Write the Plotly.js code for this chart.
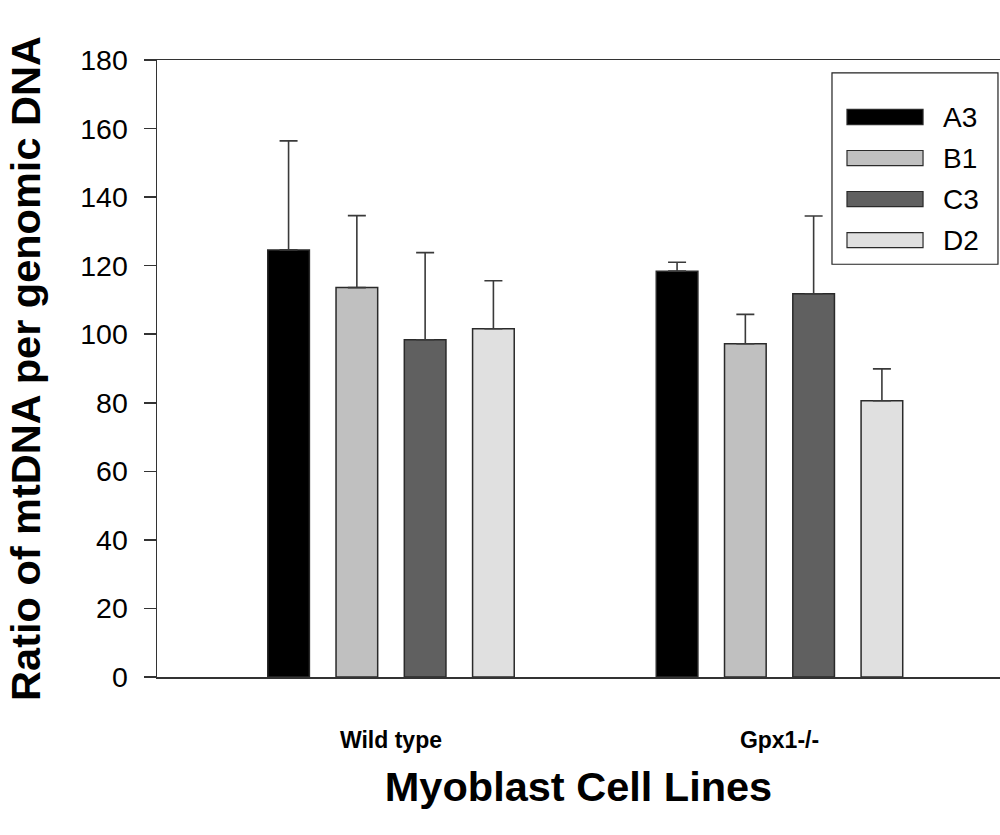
<!DOCTYPE html>
<html>
<head>
<meta charset="utf-8">
<script src="https://cdn.plot.ly/plotly-3.0.1.min.js"></script>
<style>
  html, body { margin: 0; padding: 0; background: #ffffff; }
  #chart { width: 1000px; height: 835px; }
</style>
</head>
<body>
<div id="chart"></div>
<script>
// ---- Data ----
const categories = ["Wild type", "Gpx1-/-"];
const seriesNames = ["A3", "B1", "C3", "D2"];
const seriesColors = ["#000000", "#c0c0c0", "#606060", "#e0e0e0"];

const valuesA3 = [124.6, 118.4];
const valuesB1 = [113.6, 97.2];
const valuesC3 = [98.4, 111.8];
const valuesD2 = [101.6, 80.6];

const errorsA3 = [31.8, 2.6];
const errorsB1 = [21.0, 8.6];
const errorsC3 = [25.4, 22.7];
const errorsD2 = [14.0, 9.3];

const yTickValues = [0, 20, 40, 60, 80, 100, 120, 140, 160, 180];

const allValues = [valuesA3, valuesB1, valuesC3, valuesD2];
const allErrors = [errorsA3, errorsB1, errorsC3, errorsD2];

const FONT = "Liberation Sans, Arial, Helvetica, sans-serif";

const traces = seriesNames.map((name, i) => ({
  type: "bar",
  name: name,
  x: categories,
  y: allValues[i],
  marker: { color: seriesColors[i], line: { color: "#2a2a2a", width: 1.5 } },
  error_y: {
    type: "data",
    symmetric: false,
    array: allErrors[i],
    arrayminus: allErrors[i].map(() => 0),
    color: "#3a3a3a",
    thickness: 1.6,
    width: 9
  },
  showlegend: false,
  hoverinfo: "x+y+name"
}));

// Legend drawn as a boxed key in paper coordinates
const shapes = [];
const annotations = [];
const legX0 = 0.8007, legX1 = 0.9976, legY0 = 0.669, legY1 = 0.979;
shapes.push({ type: "rect", xref: "paper", yref: "paper", x0: legX0, x1: legX1, y0: legY0, y1: legY1,
  line: { color: "#222", width: 1.2 }, fillcolor: "#ffffff", layer: "above" });
const swH = 0.0245, rowStep = 0.0665, firstRow = 0.9076;
seriesNames.forEach((name, i) => {
  const yc = firstRow - i * rowStep;
  shapes.push({ type: "rect", xref: "paper", yref: "paper", x0: 0.8185, x1: 0.9087,
    y0: yc - swH / 2, y1: yc + swH / 2, fillcolor: seriesColors[i],
    line: { color: "#2a2a2a", width: 1.2 }, layer: "above" });
  annotations.push({ xref: "paper", yref: "paper", x: 0.9300, y: yc, xanchor: "left", yanchor: "middle",
    text: name, showarrow: false, font: { family: FONT, size: 28, color: "#000" } });
});

const layout = {
  width: 1000,
  height: 835,
  margin: { l: 157, r: 0, t: 60, b: 158 },
  paper_bgcolor: "#ffffff",
  plot_bgcolor: "#ffffff",
  barmode: "group",
  bargap: 0.297,
  bargroupgap: 0.39,
  showlegend: false,
  font: { family: FONT, color: "#000" },
  xaxis: {
    type: "category",
    range: [-0.6023, 1.5676],
    showline: true,
    linecolor: "#333",
    linewidth: 1.5,
    mirror: true,
    ticks: "",
    showgrid: false,
    zeroline: false,
    tickfont: { family: FONT, size: 23, color: "#000", weight: "bold" },
    ticklabelstandoff: 42,
    title: { text: "Myoblast Cell Lines", font: { family: FONT, size: 41.5, color: "#000", weight: "bold" }, standoff: 20 },
    automargin: false
  },
  yaxis: {
    range: [0, 180],
    tickvals: yTickValues,
    ticktext: yTickValues.map(String),
    showline: true,
    linecolor: "#333",
    linewidth: 1.5,
    ticks: "outside",
    ticklen: 12,
    tickwidth: 1.5,
    tickcolor: "#333",
    showgrid: false,
    zeroline: false,
    tickfont: { family: FONT, size: 28.5, color: "#000" },
    ticklabelstandoff: 10,
    title: { text: "Ratio of mtDNA per genomic DNA", font: { family: FONT, size: 41.5, color: "#000", weight: "bold" }, standoff: 26 },
    automargin: false
  },
  shapes: shapes,
  annotations: annotations
};

Plotly.newPlot("chart", traces, layout, { displayModeBar: false, staticPlot: true });
</script>
</body>
</html>
